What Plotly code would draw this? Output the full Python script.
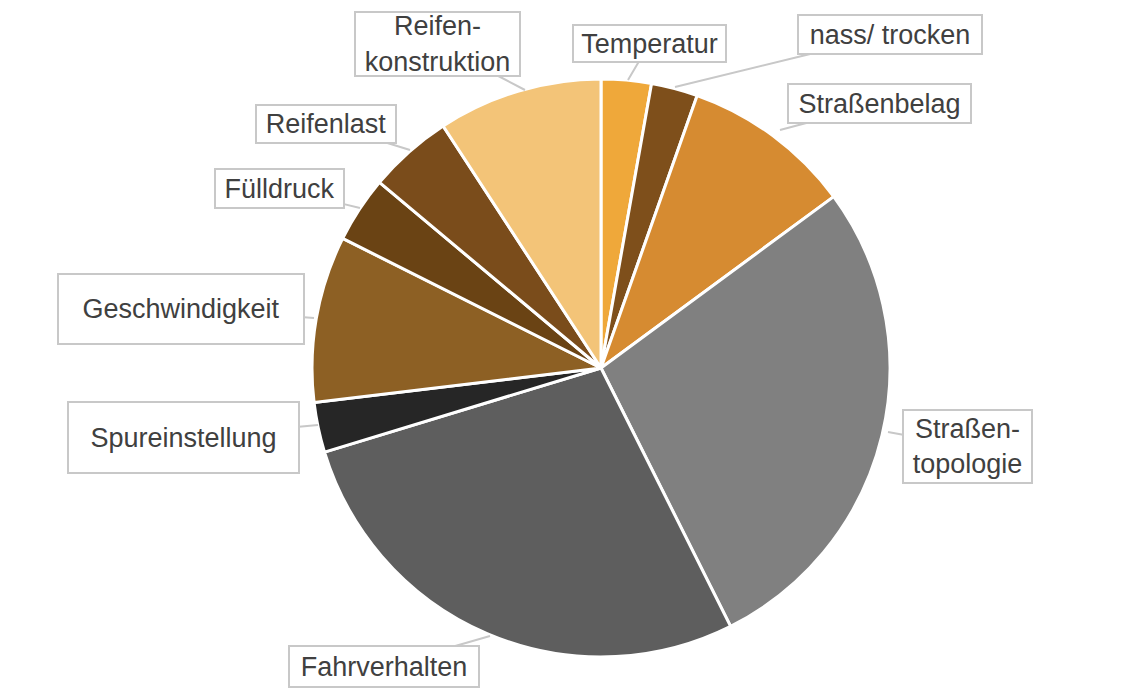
import plotly.graph_objects as go

labels = ["Temperatur", "nass/ trocken", "Straßenbelag", "Straßentopologie", "Fahrverhalten",
          "Spureinstellung", "Geschwindigkeit", "Fülldruck", "Reifenlast", "Reifenkonstruktion"]
label_text = ["Temperatur", "nass/ trocken", "Straßenbelag", "Straßen-<br>topologie", "Fahrverhalten",
              "Spureinstellung", "Geschwindigkeit", "Fülldruck", "Reifenlast", "Reifen-<br>konstruktion"]
values = [2.8, 2.6, 9.5, 27.7, 27.7, 2.8, 9.3, 3.7, 4.7, 9.2]
colors = ["#EFA83A", "#7E4F1B", "#D68B31", "#808080", "#5E5E5E",
          "#262626", "#8D6024", "#6A4314", "#7A4C1B", "#F3C478"]

W, H = 1122, 698
OFF = 8  # page body margin offset
cx, cy, r = 601 - OFF, 368 - OFF, 289

fig = go.Figure(go.Pie(
    labels=labels, values=values, sort=False, direction="clockwise", rotation=0,
    marker=dict(colors=colors, line=dict(color="white", width=3)),
    textinfo="none", hoverinfo="label+percent",
    domain=dict(x=[(cx - r) / W, (cx + r) / W], y=[(H - cy - r) / H, (H - cy + r) / H]),
    showlegend=False,
))

# callout layout: head point (px), box center (px), box size (px)
callouts = [
    ((628, 80), (649.5, 43.5), (155, 39)),
    ((675, 87), (890, 34.5), (186, 41)),
    ((780, 130), (879.5, 103.5), (185, 41)),
    ((888, 432), (967.5, 446.5), (131, 75)),
    ((490, 636), (384, 666.5), (192, 43)),
    ((318, 425), (183.5, 437.5), (233, 73)),
    ((314, 318), (181, 309), (248, 72)),
    ((360, 208), (279.5, 188.5), (131, 41)),
    ((410, 150), (326, 124), (142, 40)),
    ((525, 90), (437.5, 44), (167, 66)),
]

anns = []
for txt, (head, ctr, size) in zip(label_text, callouts):
    hx, hy = head[0] - OFF, head[1] - OFF
    anns.append(dict(
        x=hx / W, y=1 - hy / H, xref="paper", yref="paper",
        ax=ctr[0] - head[0], ay=ctr[1] - head[1], axref="pixel", ayref="pixel",
        text=txt, showarrow=True, arrowhead=0, arrowwidth=2, arrowcolor="#C8C8C8",
        font=dict(family="Liberation Sans, Arial, sans-serif", size=27, color="#404040"),
        bordercolor="#C8C8C8", borderwidth=2, borderpad=0, bgcolor="white",
        width=size[0] - 4, height=size[1] - 4, align="center", valign="middle",
    ))

fig.update_layout(
    width=W, height=H, margin=dict(l=0, r=0, t=0, b=0),
    paper_bgcolor="white", plot_bgcolor="white", annotations=anns,
)

fig.write_html("out.html")
